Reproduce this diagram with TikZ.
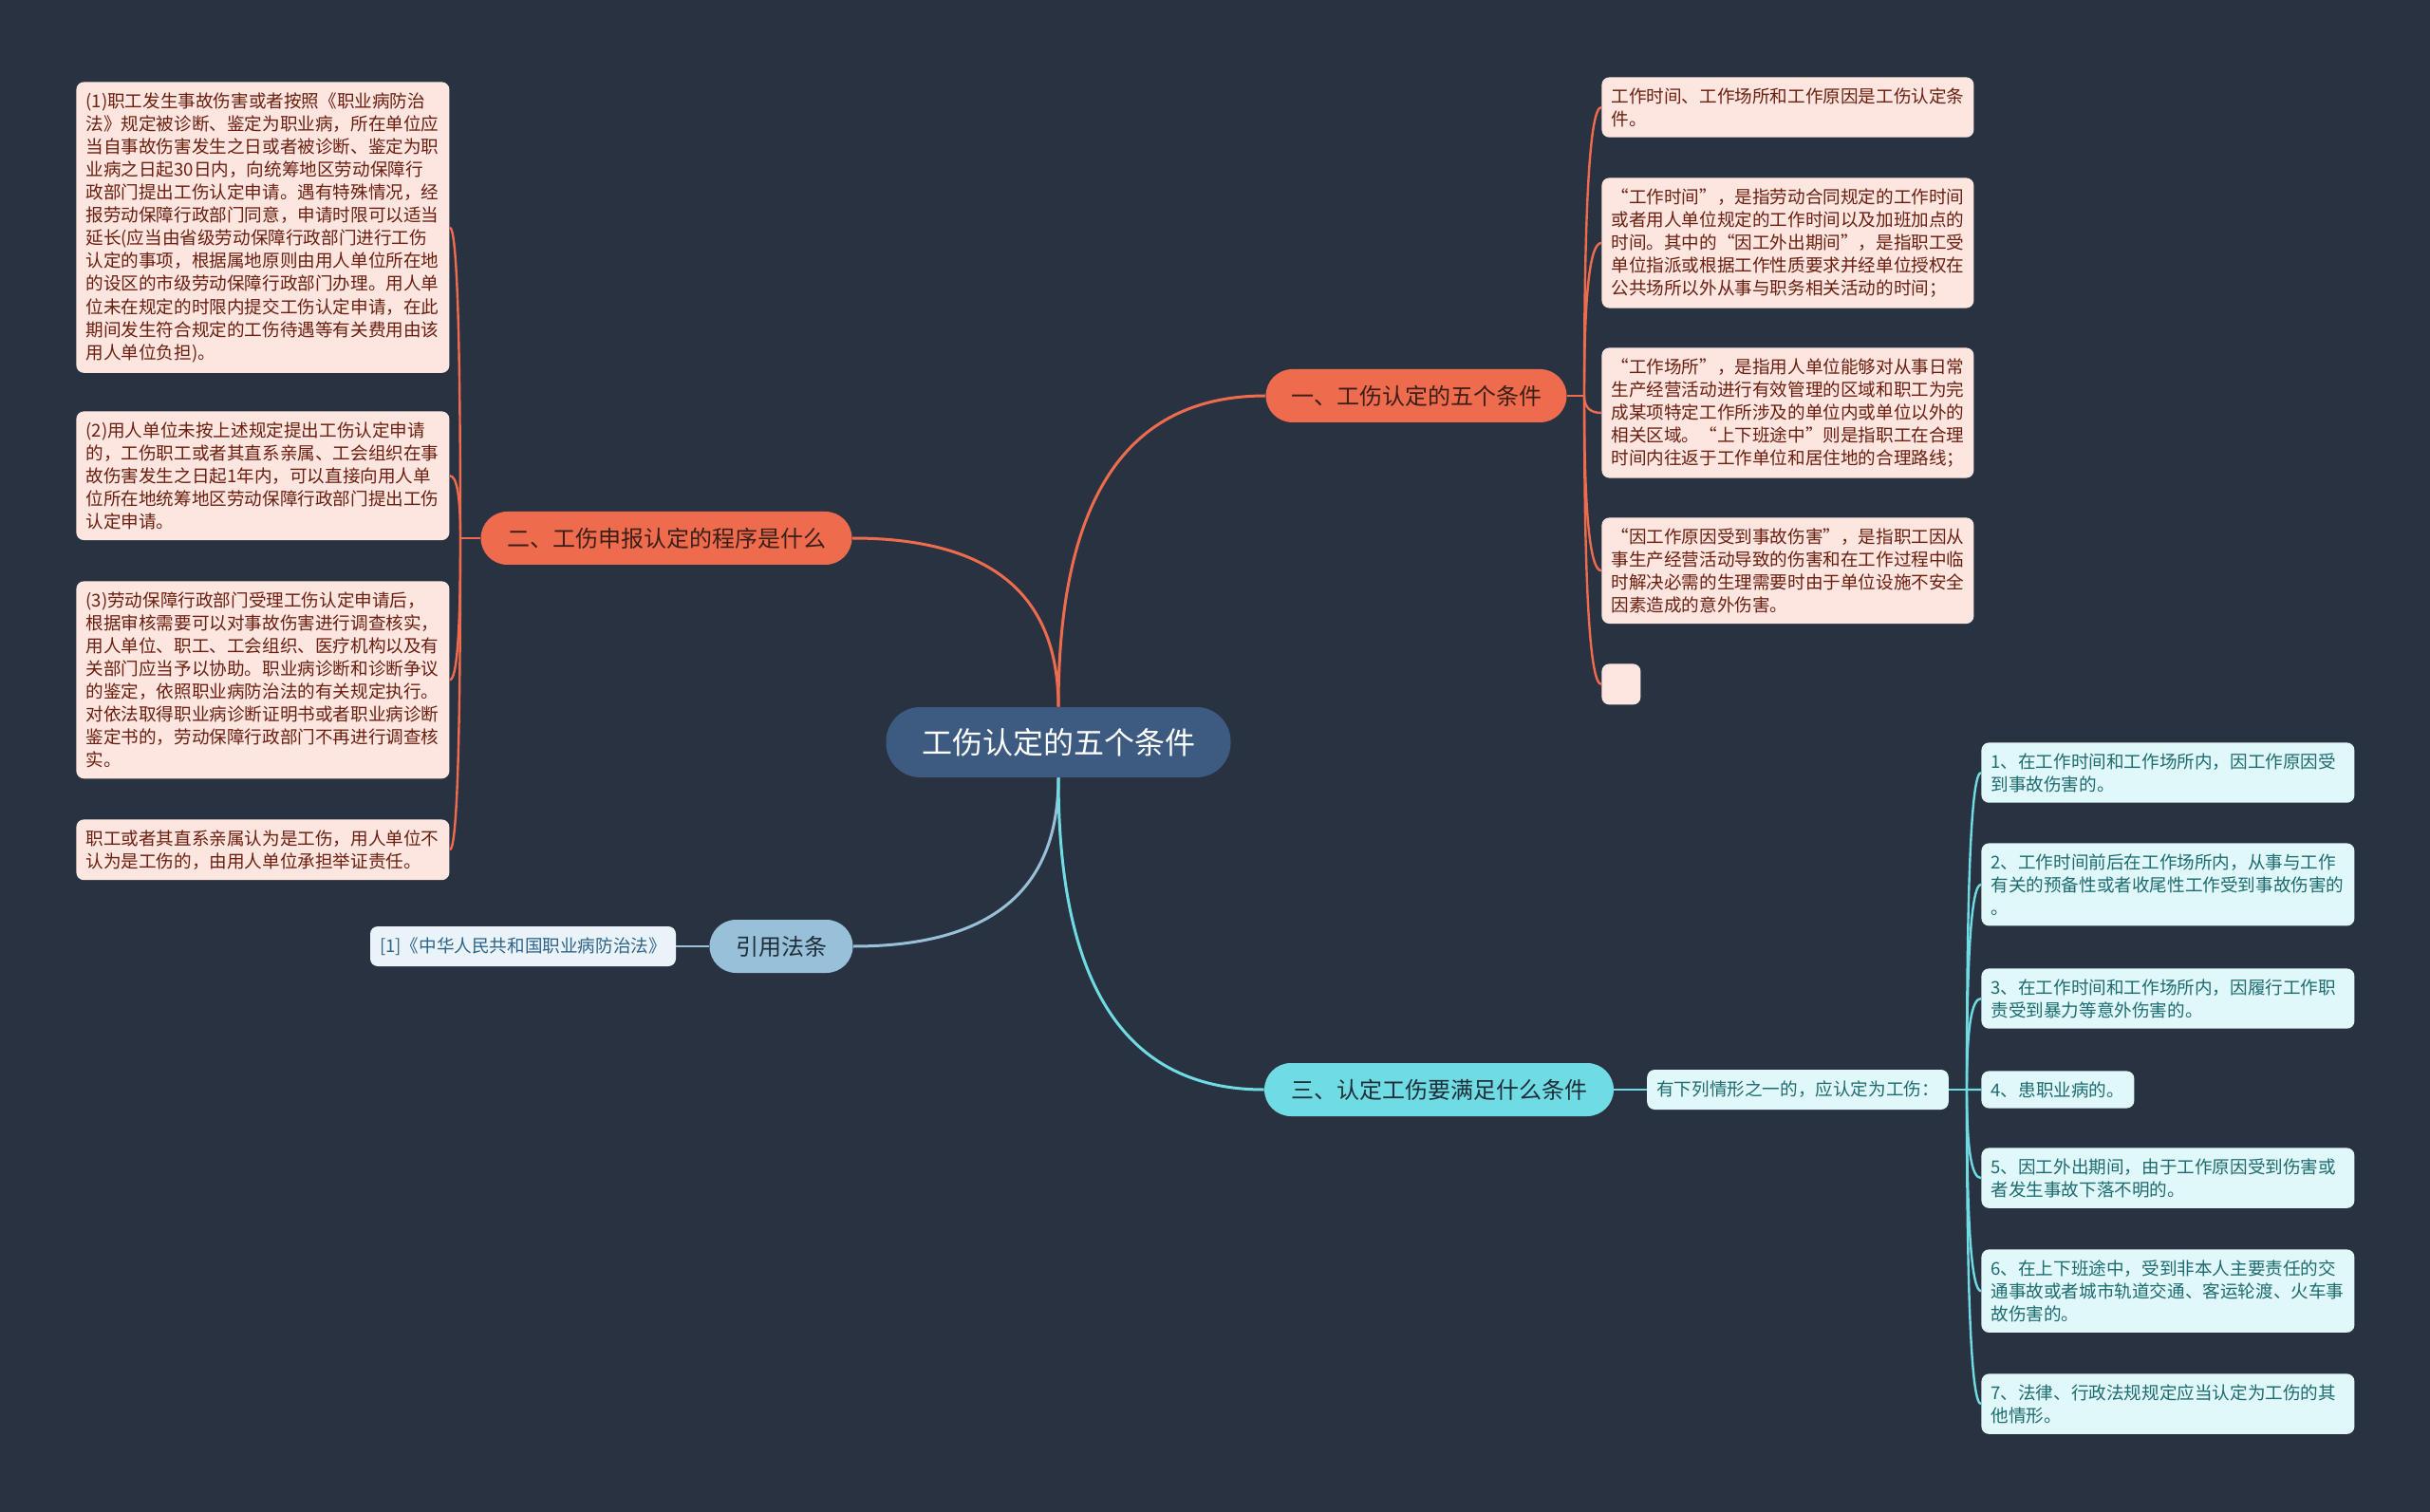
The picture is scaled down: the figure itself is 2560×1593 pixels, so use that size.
\documentclass[tikz,border=0pt]{standalone}
\usepackage{fontspec}
\setmainfont{Noto Sans CJK SC}
\usetikzlibrary{calc}
\definecolor{bgcol}{HTML}{293241}
\definecolor{rootcol}{HTML}{3D5A80}
\definecolor{sienna}{HTML}{EE6C4D}
\definecolor{paleblue}{HTML}{98C1D9}
\definecolor{cyanline}{HTML}{6FDCE3}
\definecolor{pinkfill}{HTML}{FDE6E0}
\definecolor{pinktext}{HTML}{6B1F10}
\definecolor{cyanfill}{HTML}{E0F8F9}
\definecolor{cyantext}{HTML}{1E6B70}
\definecolor{lawfill}{HTML}{EAF3F8}
\definecolor{lawtext}{HTML}{2D6389}
\definecolor{secink}{HTML}{3A1E17}
\definecolor{coolink}{HTML}{1F2D3A}
\tikzset{
  rootbox/.style={fill=rootcol, text=white, rounded corners=18pt,
    font=\fontsize{16}{19}\selectfont, minimum width=181.5pt, minimum height=37pt, inner sep=0pt},
  secbox/.style={rounded corners=14pt, font=\fontsize{12}{14}\selectfont,
    minimum height=28pt, inner sep=0pt},
  card/.style={rounded corners=4pt, align=left, font=\fontsize{9.3}{12.05}\selectfont,
    inner xsep=5pt, inner ysep=5.5pt, anchor=north west},
  cardO/.style={card, fill=pinkfill, text=pinktext, text width=186.5pt},
  cardC/.style={card, fill=cyanfill, text=cyantext, text width=186.5pt},
  link/.style={line width=1.5pt},
  twig/.style={line width=1.2pt},
  branch/.style={to path={.. controls ($(\tikztostart)!.67!(\tikztostart|-\tikztotarget)$)
    and ($(\tikztotarget)!.67!(\tikztostart|-\tikztotarget)$) .. (\tikztotarget)}}
}
\begin{document}
\begin{tikzpicture}[x=0.5pt,y=0.5pt]
\path[use as bounding box, fill=bgcol] (0,0) rectangle (2560,-1593);

\node[rootbox] (root) at (1115,-782) {工伤认定的五个条件};

% Main topics
\node[secbox, fill=sienna, text=secink, minimum width=158.5pt] (sec1) at (1492,-417) {一、工伤认定的五个条件};
\node[secbox, fill=sienna, text=secink, minimum width=195.5pt] (sec2) at (702,-567) {二、工伤申报认定的程序是什么};
\node[secbox, fill=paleblue, text=coolink, minimum width=75.5pt] (laws) at (823,-997) {引用法条};
\node[secbox, fill=cyanline, text=coolink, minimum width=184pt] (sec3) at (1516,-1148) {三、认定工伤要满足什么条件};

% Topic one
\node[cardO, text width=186pt] (s1a) at (1687,-81)
  {工作时间、工作场所和工作原因是工伤认定条\\件。};
\node[cardO, text width=186pt] (s1b) at (1687,-187)
  {“工作时间”，是指劳动合同规定的工作时间\\或者用人单位规定的工作时间以及加班加点的\\时间。其中的“因工外出期间”，是指职工受\\单位指派或根据工作性质要求并经单位授权在\\公共场所以外从事与职务相关活动的时间；};
\node[cardO, text width=186pt] (s1c) at (1687,-366)
  {“工作场所”，是指用人单位能够对从事日常\\生产经营活动进行有效管理的区域和职工为完\\成某项特定工作所涉及的单位内或单位以外的\\相关区域。“上下班途中”则是指职工在合理\\时间内往返于工作单位和居住地的合理路线；};
\node[cardO, text width=186pt] (s1d) at (1687,-545)
  {“因工作原因受到事故伤害”，是指职工因从\\事生产经营活动导致的伤害和在工作过程中临\\时解决必需的生理需要时由于单位设施不安全\\因素造成的意外伤害。};
\node[card, fill=pinkfill, minimum width=20.5pt, minimum height=21.5pt, inner sep=0pt] (s1e) at (1687,-699) {};

% Topic two
\node[cardO] (s2a) at (80,-86)
  {(1)职工发生事故伤害或者按照《职业病防治\\法》规定被诊断、鉴定为职业病，所在单位应\\当自事故伤害发生之日或者被诊断、鉴定为职\\业病之日起30日内，向统筹地区劳动保障行\\政部门提出工伤认定申请。遇有特殊情况，经\\报劳动保障行政部门同意，申请时限可以适当\\延长(应当由省级劳动保障行政部门进行工伤\\认定的事项，根据属地原则由用人单位所在地\\的设区的市级劳动保障行政部门办理。用人单\\位未在规定的时限内提交工伤认定申请，在此\\期间发生符合规定的工伤待遇等有关费用由该\\用人单位负担)。};
\node[cardO] (s2b) at (80,-433)
  {(2)用人单位未按上述规定提出工伤认定申请\\的，工伤职工或者其直系亲属、工会组织在事\\故伤害发生之日起1年内，可以直接向用人单\\位所在地统筹地区劳动保障行政部门提出工伤\\认定申请。};
\node[cardO] (s2c) at (80,-612)
  {(3)劳动保障行政部门受理工伤认定申请后，\\根据审核需要可以对事故伤害进行调查核实，\\用人单位、职工、工会组织、医疗机构以及有\\关部门应当予以协助。职业病诊断和诊断争议\\的鉴定，依照职业病防治法的有关规定执行。\\对依法取得职业病诊断证明书或者职业病诊断\\鉴定书的，劳动保障行政部门不再进行调查核\\实。};
\node[cardO] (s2d) at (80,-863)
  {职工或者其直系亲属认为是工伤，用人单位不\\认为是工伤的，由用人单位承担举证责任。};

% Cited law
\node[card, anchor=center, fill=lawfill, text=lawtext, minimum width=161pt, minimum height=21pt] (law1) at (551,-997)
  {[1]《中华人民共和国职业病防治法》};

% Topic three
\node[card, anchor=center, fill=cyanfill, text=cyantext, minimum width=158.5pt, minimum height=21pt] (lead3) at (1894,-1148)
  {有下列情形之一的，应认定为工伤：};
\node[cardC] (s3a) at (2087,-782)
  {1、在工作时间和工作场所内，因工作原因受\\到事故伤害的。};
\node[cardC] (s3b) at (2087,-888)
  {2、工作时间前后在工作场所内，从事与工作\\有关的预备性或者收尾性工作受到事故伤害的\\。};
\node[cardC] (s3c) at (2087,-1020)
  {3、在工作时间和工作场所内，因履行工作职\\责受到暴力等意外伤害的。};
\node[card, fill=cyanfill, text=cyantext, minimum width=80.5pt] (s3d) at (2087,-1128)
  {4、患职业病的。};
\node[cardC] (s3e) at (2087,-1209)
  {5、因工外出期间，由于工作原因受到伤害或\\者发生事故下落不明的。};
\node[cardC] (s3f) at (2087,-1316)
  {6、在上下班途中，受到非本人主要责任的交\\通事故或者城市轨道交通、客运轮渡、火车事\\故伤害的。};
\node[cardC] (s3g) at (2087,-1447)
  {7、法律、行政法规规定应当认定为工伤的其\\他情形。};

\coordinate (j1) at (1669,-417);
\coordinate (j2) at (485,-567);
\coordinate (j3) at (2072,-1148);

% Root links
\draw[link, sienna] (root.north) to[branch] (sec1.west);
\draw[link, sienna] (root.north) to[branch] (sec2.east);
\draw[link, paleblue] (root.south) to[branch] (laws.east);
\draw[link, cyanline] (root.south) to[branch] (sec3.west);

% Branch links
\draw[twig, sienna] (sec1.east) -- (j1);
\foreach \c in {s1a,s1b,s1c,s1d,s1e}{\draw[twig, sienna] (j1) to[branch] (\c.west);}
\draw[twig, sienna] (sec2.west) -- (j2);
\foreach \c in {s2a,s2b,s2c,s2d}{\draw[twig, sienna] (j2) to[branch] (\c.east);}
\draw[twig, paleblue] (laws.west) -- (law1.east);
\draw[twig, cyanline] (sec3.east) -- (lead3.west);
\draw[twig, cyanline] (lead3.east) -- (j3);
\foreach \c in {s3a,s3b,s3c,s3d,s3e,s3f,s3g}{\draw[twig, cyanline] (j3) to[branch] (\c.west);}

\end{tikzpicture}
\end{document}
